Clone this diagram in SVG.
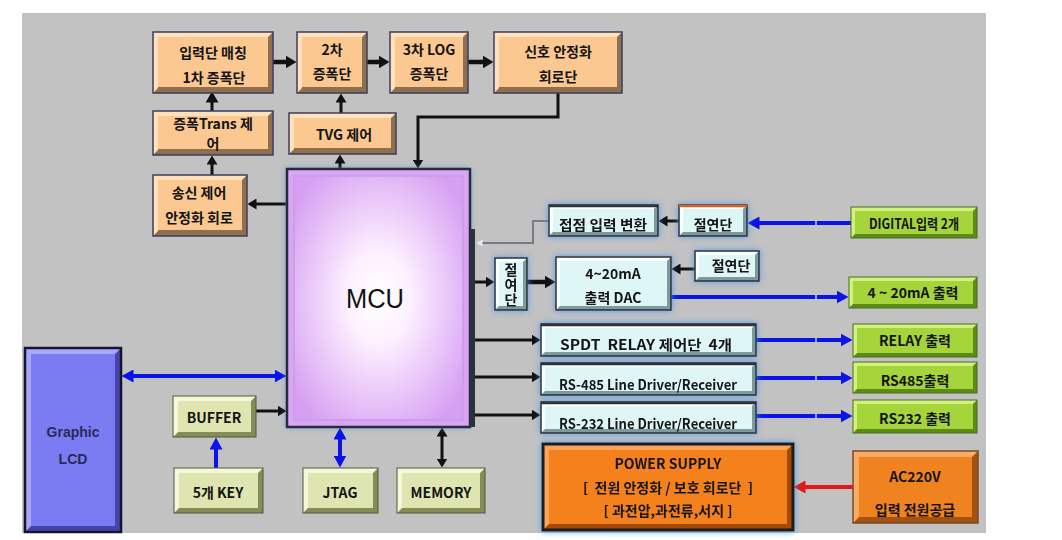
<svg xmlns="http://www.w3.org/2000/svg" width="1062" height="540" viewBox="0 0 1062 540">
<style>
.t{font-family:"Noto Sans CJK KR","Noto Sans",sans-serif;font-weight:bold;font-size:14px;fill:#141414;text-anchor:middle}
.lat{font-family:"Liberation Sans","Noto Sans CJK KR",sans-serif;font-weight:bold;text-anchor:middle;fill:#2a2a5a}
.pk .dk{fill:#8e6f4e}.pk .lt{fill:#ffe2bd}.pk .fc{fill:#fbc891}.pk .ol{fill:none;stroke:#3d3d5c;stroke-width:1.5}
.cy .dk{fill:#7f9a9c}.cy .lt{fill:#fbffff}.cy .fc{fill:#def7f6}.cy .ol{fill:none;stroke:#2d2d2d;stroke-width:1.5}
.gr .dk{fill:#5c8c18}.gr .lt{fill:#d2f27e}.gr .fc{fill:#a5d53a}.gr .ol{fill:none;stroke:#4a6a20;stroke-width:1}
.ol2 .dk{fill:#868c56}.ol2 .lt{fill:#f5f8d8}.ol2 .fc{fill:#dee5b0}.ol2 .ol{fill:none;stroke:#50583e;stroke-width:1}
.lcd .dk{fill:#4444aa}.lcd .lt{fill:#a8a8ff}.lcd .fc{fill:#7b7bf2}.lcd .ol{fill:none;stroke:#151530;stroke-width:2.5}
.pw .dk{fill:#a44a00}.pw .lt{fill:#ffa558}.pw .fc{fill:#f5811f}.pw .ol{fill:none;stroke:#1a1a1a;stroke-width:3}
.ac .dk{fill:#a45212}.ac .lt{fill:#ffab62}.ac .fc{fill:#f0821f}.ac .ol{fill:none;stroke:#7a4a2a;stroke-width:1.5}
.k{stroke:#111;stroke-width:3;fill:none}
.kb{stroke:#111;stroke-width:4.5;fill:none}
.b{stroke:#0a14e8;stroke-width:4;fill:none}
.r{stroke:#e41818;stroke-width:4;fill:none}
</style>
<defs>
<marker id="mk" markerUnits="userSpaceOnUse" markerWidth="10" markerHeight="11" refX="0.5" refY="5.5" orient="auto-start-reverse"><path d="M0,0 L9,5.5 L0,11 z" fill="#111"/></marker>
<marker id="mkB" markerUnits="userSpaceOnUse" markerWidth="12" markerHeight="13" refX="0.5" refY="6.5" orient="auto-start-reverse"><path d="M0,0 L11,6.5 L0,13 z" fill="#111"/></marker>
<marker id="mu" markerUnits="userSpaceOnUse" markerWidth="13" markerHeight="13" refX="0.5" refY="6.5" orient="auto-start-reverse"><path d="M0,0 L12,6.5 L0,13 z" fill="#0a14e8"/></marker>
<marker id="mr" markerUnits="userSpaceOnUse" markerWidth="13" markerHeight="13" refX="0.5" refY="6.5" orient="auto-start-reverse"><path d="M0,0 L12,6.5 L0,13 z" fill="#e41818"/></marker>
<marker id="mg" markerUnits="userSpaceOnUse" markerWidth="7" markerHeight="7" refX="0.5" refY="3.5" orient="auto"><path d="M0,0 L6,3.5 L0,7 z" fill="#e8e8f0"/></marker>
<radialGradient id="mcuG" cx="50%" cy="50%" r="62%">
<stop offset="0" stop-color="#ffffff"/>
<stop offset="0.3" stop-color="#fdf0ff"/>
<stop offset="1" stop-color="#d6a0f2"/>
</radialGradient>
<filter id="glow" x="-20%" y="-30%" width="140%" height="160%">
<feDropShadow dx="0" dy="0" stdDeviation="3" flood-color="#3f8ff0" flood-opacity="0.85"/>
</filter>
</defs>
<rect x="0" y="0" width="1062" height="540" fill="#ffffff"/>
<rect x="22" y="13" width="964" height="520" fill="#c2c2c2"/>

<g id="connectors">
<line class="kb" x1="273" y1="62" x2="286" y2="62" marker-end="url(#mkB)"/>
<line class="kb" x1="367" y1="62" x2="379" y2="62" marker-end="url(#mkB)"/>
<line class="kb" x1="468" y1="62" x2="483" y2="62" marker-end="url(#mkB)"/>
<line class="k" x1="212" y1="111" x2="212" y2="102" marker-end="url(#mkB)"/>
<line class="k" x1="212" y1="175" x2="212" y2="164" marker-end="url(#mk)"/>
<line class="k" x1="340" y1="169" x2="340" y2="163" marker-end="url(#mk)"/>
<line class="k" x1="341" y1="113" x2="341" y2="102" marker-end="url(#mk)"/>
<path class="k" d="M558,93 V117 H418 V160" marker-end="url(#mk)"/>
<line class="k" x1="287" y1="204" x2="256" y2="204" marker-end="url(#mk)"/>
<path d="M549,221 H533 V243 H482" fill="none" stroke="#7a7a86" stroke-width="2" marker-end="url(#mg)"/>
<line class="k" x1="679" y1="221" x2="667" y2="221" marker-end="url(#mk)"/>
<line class="b" x1="851" y1="223" x2="759" y2="223" marker-end="url(#mu)"/>
<line class="k" x1="475" y1="282" x2="486" y2="282" marker-end="url(#mk)"/>
<line class="kb" x1="527" y1="282" x2="545" y2="282" marker-end="url(#mkB)"/>
<line class="k" x1="695" y1="269" x2="680" y2="269" marker-end="url(#mk)"/>
<line class="b" x1="671" y1="297" x2="837" y2="297" marker-end="url(#mu)"/>
<line class="k" x1="475" y1="340" x2="532" y2="340" marker-end="url(#mk)"/>
<line class="k" x1="475" y1="377" x2="532" y2="377" marker-end="url(#mk)"/>
<line class="k" x1="475" y1="415" x2="532" y2="415" marker-end="url(#mk)"/>
<line class="b" x1="756" y1="340" x2="841" y2="340" marker-end="url(#mu)"/>
<line class="b" x1="756" y1="378" x2="841" y2="378" marker-end="url(#mu)"/>
<line class="b" x1="756" y1="416" x2="841" y2="416" marker-end="url(#mu)"/>
<g stroke="#c8d0ff" stroke-width="1.5">
<line x1="816" y1="221" x2="816" y2="225"/>
<line x1="816" y1="295" x2="816" y2="299"/>
<line x1="816" y1="338" x2="816" y2="342"/>
<line x1="816" y1="376" x2="816" y2="380"/>
<line x1="816" y1="414" x2="816" y2="418"/>
</g>
<line class="b" x1="133" y1="376" x2="275" y2="376" marker-start="url(#mu)" marker-end="url(#mu)"/>
<line class="k" x1="256" y1="411" x2="278" y2="411" marker-end="url(#mk)"/>
<line class="b" x1="216" y1="468" x2="216" y2="449" marker-end="url(#mu)"/>
<line class="b" x1="340" y1="439" x2="340" y2="456" marker-start="url(#mu)" marker-end="url(#mu)"/>
<line class="k" x1="442" y1="436" x2="442" y2="459" marker-start="url(#mk)" marker-end="url(#mk)"/>
<line class="r" x1="853" y1="487" x2="805" y2="487" marker-end="url(#mr)"/>
</g>

<g id="n-input-amp" class="pk">
<rect class="dk" x="153" y="32" width="120" height="61"/>
<polygon class="lt" points="153,32 273,32 268,37 158,37 158,88 153,93"/>
<rect class="fc" x="158" y="37" width="110" height="50"/>
<rect class="ol" x="153" y="32" width="120" height="61"/>
<text class="t" x="213" y="58">입력단 매칭</text>
<text class="t" x="214" y="83">1차 증폭단</text>
</g>
<g id="n-amp2" class="pk">
<rect class="dk" x="297" y="32" width="70" height="61"/>
<polygon class="lt" points="297,32 367,32 362,37 302,37 302,88 297,93"/>
<rect class="fc" x="302" y="37" width="60" height="50"/>
<rect class="ol" x="297" y="32" width="70" height="61"/>
<text class="t" x="332" y="55">2차</text>
<text class="t" x="332" y="79">증폭단</text>
</g>
<g id="n-amp3" class="pk">
<rect class="dk" x="390" y="32" width="78" height="61"/>
<polygon class="lt" points="390,32 468,32 463,37 395,37 395,88 390,93"/>
<rect class="fc" x="395" y="37" width="68" height="50"/>
<rect class="ol" x="390" y="32" width="78" height="61"/>
<text class="t" x="429" y="55">3차 LOG</text>
<text class="t" x="429" y="79">증폭단</text>
</g>
<g id="n-signal" class="pk">
<rect class="dk" x="494" y="32" width="128" height="61"/>
<polygon class="lt" points="494,32 622,32 617,37 499,37 499,88 494,93"/>
<rect class="fc" x="499" y="37" width="118" height="50"/>
<rect class="ol" x="494" y="32" width="128" height="61"/>
<text class="t" x="558" y="57">신호 안정화</text>
<text class="t" x="558" y="82">회로단</text>
</g>
<g id="n-trans" class="pk">
<rect class="dk" x="153" y="111" width="120" height="44"/>
<polygon class="lt" points="153,111 273,111 268,116 158,116 158,150 153,155"/>
<rect class="fc" x="158" y="116" width="110" height="33"/>
<rect class="ol" x="153" y="111" width="120" height="44"/>
<text class="t" x="213" y="129" font-size="13.5">증폭Trans 제</text>
<text class="t" x="213" y="149" font-size="13.5">어</text>
</g>
<g id="n-tvg" class="pk">
<rect class="dk" x="289" y="113" width="107" height="41"/>
<polygon class="lt" points="289,113 396,113 391,118 294,118 294,149 289,154"/>
<rect class="fc" x="294" y="118" width="97" height="30"/>
<rect class="ol" x="289" y="113" width="107" height="41"/>
<text class="t" x="344" y="140">TVG 제어</text>
</g>
<g id="n-tx" class="pk">
<rect class="dk" x="153" y="175" width="94" height="61"/>
<polygon class="lt" points="153,175 247,175 242,180 158,180 158,231 153,236"/>
<rect class="fc" x="158" y="180" width="84" height="50"/>
<rect class="ol" x="153" y="175" width="94" height="61"/>
<text class="t" x="199" y="198">송신 제어</text>
<text class="t" x="199" y="223">안정화 회로</text>
</g>

<g id="n-mcu">
<rect x="287" y="169" width="183" height="258" fill="#d9a6f4" filter="url(#glow)"/>
<rect x="294" y="176" width="169" height="244" fill="url(#mcuG)" stroke="#c89ae6" stroke-width="1.5"/>
<rect x="287" y="169" width="183" height="258" fill="none" stroke="#2a2a3a" stroke-width="2.5"/>
<rect x="470" y="229" width="5" height="198" fill="#2a3040"/>
<text x="375" y="308" font-family="Liberation Sans, Arial, sans-serif" font-size="27" fill="#111" text-anchor="middle" textLength="58" lengthAdjust="spacingAndGlyphs">MCU</text>
</g>

<g id="n-contact" class="cy" filter="url(#glow)">
<rect class="dk" x="549" y="205" width="109" height="31"/>
<polygon class="lt" points="549,205 658,205 654,209 553,209 553,232 549,236"/>
<rect class="fc" x="553" y="209" width="101" height="23"/>
<rect class="ol" x="549" y="205" width="109" height="31"/>
<line x1="549" y1="206" x2="658" y2="206" stroke="#333" stroke-width="2.5"/>
<text class="t" x="603" y="230" textLength="88" lengthAdjust="spacingAndGlyphs">접점 입력 변환</text>
</g>
<g id="n-iso1" class="cy" filter="url(#glow)">
<rect class="dk" x="679" y="205" width="68" height="31"/>
<polygon class="lt" points="679,205 747,205 743,209 683,209 683,232 679,236"/>
<rect class="fc" x="683" y="209" width="60" height="23"/>
<rect class="ol" x="679" y="205" width="68" height="31"/>
<line x1="679" y1="206" x2="747" y2="206" stroke="#e0601e" stroke-width="2.5"/>
<text class="t" x="713" y="230">절연단</text>
</g>
<g id="n-digital" class="gr">
<rect class="dk" x="851" y="207" width="126" height="31"/>
<polygon class="lt" points="851,207 977,207 973,211 855,211 855,234 851,238"/>
<rect class="fc" x="855" y="211" width="118" height="23"/>
<rect class="ol" x="851" y="207" width="126" height="31"/>
<text class="t" x="914" y="229" font-size="12.5" textLength="90" lengthAdjust="spacingAndGlyphs">DIGITAL입력 2개</text>
</g>
<g id="n-iso-v" class="cy" filter="url(#glow)">
<rect class="dk" x="495" y="258" width="32" height="52"/>
<polygon class="lt" points="495,258 527,258 523,262 499,262 499,306 495,310"/>
<rect class="fc" x="499" y="262" width="24" height="44"/>
<rect class="ol" x="495" y="258" width="32" height="52"/>
<text class="t" x="511" y="285" font-size="14" style="writing-mode:vertical-rl" letter-spacing="1">절여단</text>
</g>
<g id="n-dac" class="cy" filter="url(#glow)">
<rect class="dk" x="556" y="257" width="115" height="53"/>
<polygon class="lt" points="556,257 671,257 667,261 560,261 560,306 556,310"/>
<rect class="fc" x="560" y="261" width="107" height="45"/>
<rect class="ol" x="556" y="257" width="115" height="53"/>
<text class="t" x="613" y="279">4~20mA</text>
<text class="t" x="613" y="303">출력 DAC</text>
</g>
<g id="n-iso2" class="cy" filter="url(#glow)">
<rect class="dk" x="695" y="251" width="64" height="30"/>
<polygon class="lt" points="695,251 759,251 755,255 699,255 699,277 695,281"/>
<rect class="fc" x="699" y="255" width="56" height="22"/>
<rect class="ol" x="695" y="251" width="64" height="30"/>
<text class="t" x="731" y="271">절연단</text>
</g>
<g id="n-out420" class="gr">
<rect class="dk" x="849" y="277" width="128" height="31"/>
<polygon class="lt" points="849,277 977,277 973,281 853,281 853,304 849,308"/>
<rect class="fc" x="853" y="281" width="120" height="23"/>
<rect class="ol" x="849" y="277" width="128" height="31"/>
<text class="t" x="913" y="298">4 ~ 20mA 출력</text>
</g>
<g id="n-relay" class="cy" filter="url(#glow)">
<rect class="dk" x="541" y="324" width="215" height="32"/>
<polygon class="lt" points="541,324 756,324 752,328 545,328 545,352 541,356"/>
<rect class="fc" x="545" y="328" width="207" height="24"/>
<rect class="ol" x="541" y="324" width="215" height="32"/>
<line x1="541" y1="325" x2="756" y2="325" stroke="#333" stroke-width="2.5"/>
<text class="t" x="646" y="350" font-size="13" textLength="172" lengthAdjust="spacingAndGlyphs" xml:space="preserve">SPDT  RELAY 제어단  4개</text>
</g>
<g id="n-rs485" class="cy" filter="url(#glow)">
<rect class="dk" x="541" y="363" width="215" height="32"/>
<polygon class="lt" points="541,363 756,363 752,367 545,367 545,391 541,395"/>
<rect class="fc" x="545" y="367" width="207" height="24"/>
<rect class="ol" x="541" y="363" width="215" height="32"/>
<line x1="541" y1="364" x2="756" y2="364" stroke="#333" stroke-width="2.5"/>
<text class="t" x="648" y="390" font-size="13.5" textLength="178" lengthAdjust="spacingAndGlyphs">RS-485 Line Driver/Receiver</text>
</g>
<g id="n-rs232" class="cy" filter="url(#glow)">
<rect class="dk" x="541" y="402" width="215" height="31"/>
<polygon class="lt" points="541,402 756,402 752,406 545,406 545,429 541,433"/>
<rect class="fc" x="545" y="406" width="207" height="23"/>
<rect class="ol" x="541" y="402" width="215" height="31"/>
<line x1="541" y1="403" x2="756" y2="403" stroke="#333" stroke-width="2.5"/>
<text class="t" x="648" y="429" font-size="13.5" textLength="178" lengthAdjust="spacingAndGlyphs">RS-232 Line Driver/Receiver</text>
</g>
<g id="n-relay-out" class="gr">
<rect class="dk" x="853" y="324" width="124" height="33"/>
<polygon class="lt" points="853,324 977,324 973,328 857,328 857,353 853,357"/>
<rect class="fc" x="857" y="328" width="116" height="25"/>
<rect class="ol" x="853" y="324" width="124" height="33"/>
<text class="t" x="915" y="346">RELAY 출력</text>
</g>
<g id="n-rs485-out" class="gr">
<rect class="dk" x="853" y="362" width="124" height="31"/>
<polygon class="lt" points="853,362 977,362 973,366 857,366 857,389 853,393"/>
<rect class="fc" x="857" y="366" width="116" height="23"/>
<rect class="ol" x="853" y="362" width="124" height="31"/>
<text class="t" x="915" y="386" font-size="13.5">RS485출력</text>
</g>
<g id="n-rs232-out" class="gr">
<rect class="dk" x="853" y="400" width="124" height="33"/>
<polygon class="lt" points="853,400 977,400 973,404 857,404 857,429 853,433"/>
<rect class="fc" x="857" y="404" width="116" height="25"/>
<rect class="ol" x="853" y="400" width="124" height="33"/>
<text class="t" x="915" y="424">RS232 출력</text>
</g>

<g id="n-lcd" class="lcd">
<rect class="dk" x="25" y="348" width="96" height="184"/>
<polygon class="lt" points="25,348 121,348 115,354 31,354 31,526 25,532"/>
<rect class="fc" x="31" y="354" width="84" height="172"/>
<rect class="ol" x="25" y="348" width="96" height="184"/>
<text class="lat" x="73" y="437" font-size="14">Graphic</text>
<text class="lat" x="73" y="464" font-size="14">LCD</text>
</g>
<g id="n-buffer" class="ol2">
<rect class="dk" x="173" y="396" width="83" height="41"/>
<polygon class="lt" points="173,396 256,396 251,401 178,401 178,432 173,437"/>
<rect class="fc" x="178" y="401" width="73" height="31"/>
<rect class="ol" x="173" y="396" width="83" height="41"/>
<text class="t" x="214" y="423" font-size="13">BUFFER</text>
</g>
<g id="n-key" class="ol2">
<rect class="dk" x="174" y="468" width="89" height="45"/>
<polygon class="lt" points="174,468 263,468 258,473 179,473 179,508 174,513"/>
<rect class="fc" x="179" y="473" width="79" height="35"/>
<rect class="ol" x="174" y="468" width="89" height="45"/>
<text class="t" x="218" y="498">5개 KEY</text>
</g>
<g id="n-jtag" class="ol2">
<rect class="dk" x="303" y="468" width="75" height="45"/>
<polygon class="lt" points="303,468 378,468 373,473 308,473 308,508 303,513"/>
<rect class="fc" x="308" y="473" width="65" height="35"/>
<rect class="ol" x="303" y="468" width="75" height="45"/>
<text class="t" x="340" y="498">JTAG</text>
</g>
<g id="n-memory" class="ol2">
<rect class="dk" x="397" y="468" width="88" height="45"/>
<polygon class="lt" points="397,468 485,468 480,473 402,473 402,508 397,513"/>
<rect class="fc" x="402" y="473" width="78" height="35"/>
<rect class="ol" x="397" y="468" width="88" height="45"/>
<text class="t" x="441" y="498">MEMORY</text>
</g>
<g id="n-power" class="pw" filter="url(#glow)">
<rect class="dk" x="543" y="444" width="250" height="86"/>
<polygon class="lt" points="543,444 793,444 787,450 549,450 549,524 543,530"/>
<rect class="fc" x="549" y="450" width="238" height="74"/>
<rect class="ol" x="543" y="444" width="250" height="86"/>
<text class="t" x="668" y="469" font-size="15.5">POWER SUPPLY</text>
<text class="t" x="668" y="493" font-size="15.5" xml:space="preserve">[  전원 안정화 / 보호 회로단  ]</text>
<text class="t" x="668" y="516" font-size="15.5">[ 과전압,과전류,서지 ]</text>
</g>
<g id="n-ac" class="ac">
<rect class="dk" x="853" y="451" width="125" height="72"/>
<polygon class="lt" points="853,451 978,451 972,457 859,457 859,517 853,523"/>
<rect class="fc" x="859" y="457" width="113" height="60"/>
<rect class="ol" x="853" y="451" width="125" height="72"/>
<text class="t" x="915" y="482" font-size="15">AC220V</text>
<text class="t" x="915" y="515" font-size="13.5">입력 전원공급</text>
</g>
</svg>
